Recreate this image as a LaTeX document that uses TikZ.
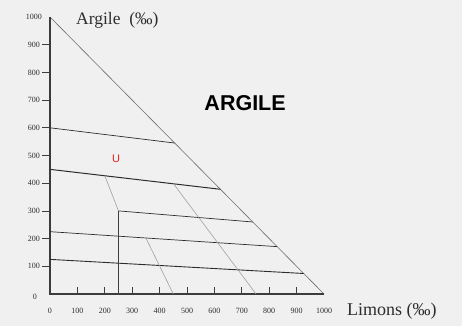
\documentclass[tikz,border=0pt]{standalone}
\usepackage{fontspec}
\setmainfont{Liberation Serif}
\newfontfamily\headfont{Liberation Sans}
\usetikzlibrary{calc,positioning}
\definecolor{cBack}{RGB}{240,240,240}
\definecolor{cAxis}{RGB}{60,60,60}
\definecolor{cEdge}{RGB}{110,110,110}
\definecolor{cLim}{RGB}{45,45,45}
\definecolor{cSep}{RGB}{160,160,160}
\definecolor{cMark}{RGB}{230,30,30}

\begin{document}
\begin{tikzpicture}[x=0.274pt,y=0.277pt,
  axisline/.style={cAxis,line width=1.1pt},
  limline/.style={cLim,line width=0.7pt},
  sepline/.style={cSep,line width=0.6pt},
  ticklab/.style={font=\fontsize{8}{8}\selectfont,inner sep=1pt,text=cLim}]
  % background and size
  \fill[cBack] (-50pt,-32pt) rectangle (412pt,294pt);
  \useasboundingbox (-50pt,-32pt) rectangle (412pt,294pt);
  % corners of the triangle
  \coordinate (O) at (0,0);
  \coordinate (Ytop) at (0,1000);
  \coordinate (Xend) at (1000,0);
  \draw[cEdge,line width=0.6pt] (Ytop) -- (Xend);
  \draw[axisline] (Ytop) -- (O) -- (Xend);
  % ticks
  \foreach \v in {100,200,...,900} {
    \draw[cAxis,line width=0.8pt] (0,\v) -- ++(-8pt,0);
    \draw[cAxis,line width=0.8pt] (\v,0) -- ++(0,7pt);
  }
  \foreach \v in {100,200,...,1000} {
    \node[ticklab] (ylab\v) at ($(0,\v)+(-16pt,0)$) {\v};
  }
  \node[ticklab] (ylab0) at ($(O)+(-15pt,-3pt)$) {0};
  \foreach \v in {0,100,...,1000} {
    \node[ticklab] (xlab\v) at ($(\v,0)+(0,-17pt)$) {\v};
  }
  % class limits
  \coordinate (a1) at (0,600);   \coordinate (a2) at (455,545);
  \coordinate (b1) at (0,450);   \coordinate (b2) at (622,378);
  \coordinate (c1) at (250,300); \coordinate (c2) at (740,260);
  \coordinate (d1) at (0,225);   \coordinate (d2) at (829,171);
  \coordinate (e1) at (0,125);   \coordinate (e2) at (926,74);
  \coordinate (c0) at (250,0);
  \draw[limline] (a1) -- (a2);
  \draw[limline,line width=1pt] (b1) -- (b2);
  \draw[limline] (c1) -- (c2);
  \draw[limline] (d1) -- (d2);
  \draw[limline,line width=0.9pt] (e1) -- (e2);
  \draw[cAxis,line width=0.9pt] (c0) -- (c1);
  % oblique limits
  \coordinate (f1) at (200,427);
  \coordinate (g1) at (450,399); \coordinate (g2) at (752,0);
  \coordinate (h1) at (350,202); \coordinate (h2) at (450,0);
  \draw[sepline] (f1) -- (c1);
  \draw[sepline] (g1) -- (g2);
  \draw[sepline] (h1) -- (h2);
  % labels
  \node[font=\fontsize{17.5}{17.5}\selectfont,anchor=west,inner sep=0pt,text=cLim] (argax) at ($(Ytop)+(26pt,-3pt)$) {Argile\ \ (‰)};
  \node[font=\fontsize{18}{18}\selectfont,anchor=west,inner sep=0pt,text=cLim] (limax) at ($(Xend)+(23pt,-17pt)$) {Limons (‰)};
  \node[font=\headfont\bfseries\fontsize{21.5}{21.5}\selectfont] (argile) at (712,690) {ARGILE};
  \node[font=\headfont\fontsize{11}{11}\selectfont,text=cMark] (mark) at (241,488) {U};
\end{tikzpicture}
\end{document}
